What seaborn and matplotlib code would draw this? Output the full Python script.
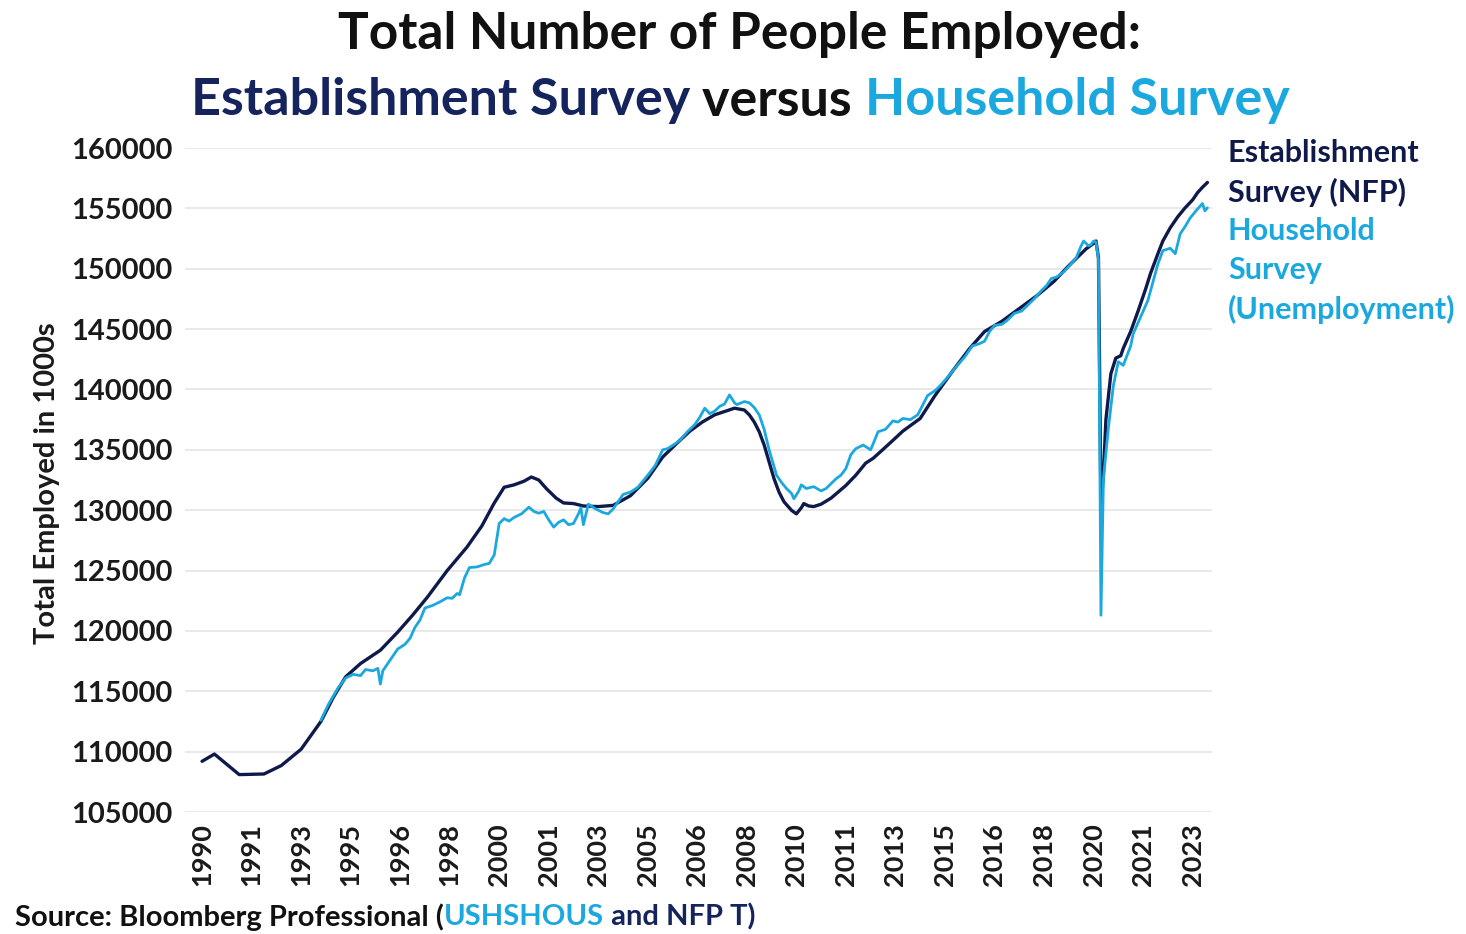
import matplotlib
matplotlib.use("Agg")
import matplotlib.pyplot as plt
import numpy as np
import pandas as pd
import seaborn as sns

# ---------------- data ----------------
est_dates = ["1990-01", "1990-06", "1991-04", "1992-02", "1992-09", "1993-05", "1994-01", "1994-06",
             "1994-11", "1995-05", "1996-01", "1996-08", "1997-02", "1997-08", "1998-04", "1998-12",
             "1999-06", "1999-11", "2000-03", "2000-07", "2000-11", "2001-02", "2001-05", "2001-08",
             "2001-12", "2002-03", "2002-07", "2002-11", "2003-05", "2003-11", "2004-06", "2005-01",
             "2005-07", "2006-01", "2006-06", "2006-11", "2007-04", "2007-12", "2008-04", "2008-06",
             "2008-08", "2008-10", "2008-12", "2009-02", "2009-04", "2009-06", "2009-08", "2009-11",
             "2010-01", "2010-03", "2010-04", "2010-06", "2010-08", "2010-11", "2011-03", "2011-09",
             "2012-01", "2012-05", "2012-08", "2012-11", "2013-03", "2013-08", "2014-03", "2014-09",
             "2015-04", "2015-11", "2016-05", "2016-12", "2017-07", "2018-02", "2018-09", "2019-03",
             "2019-10", "2020-01", "2020-02", "2020-03", "2020-04", "2020-05", "2020-06", "2020-08",
             "2020-10", "2020-12", "2021-01", "2021-04", "2021-07", "2021-10", "2021-12", "2022-03",
             "2022-05", "2022-08", "2022-11", "2023-02", "2023-05", "2023-07", "2023-09", "2023-11"]
est_values = [109200, 109800, 108100, 108150, 108850, 110200, 112500, 114500,
              116200, 117300, 118400, 119900, 121300, 122800, 125000, 126950,
              128700, 130600, 131900, 132100, 132400, 132750, 132500, 131800,
              131000, 130600, 130550, 130350, 130300, 130400, 131200, 132650,
              134400, 135600, 136550, 137300, 137900, 138450, 138300, 137900,
              137300, 136500, 135400, 134000, 132600, 131500, 130700, 130000,
              129700, 130200, 130550, 130350, 130300, 130500, 131000, 132050,
              132900, 133900, 134300, 134850, 135600, 136550, 137600, 139500,
              141500, 143400, 144800, 145650, 146700, 147750, 148950, 150250,
              151650, 152100, 152300, 150900, 130400, 133000, 137500, 141300,
              142600, 142800, 143400, 144800, 146500, 148300, 149600, 151250,
              152300, 153400, 154300, 155050, 155700, 156300, 156750, 157150]

hh_dates = ["1994-01", "1994-04", "1994-08", "1994-11", "1995-02", "1995-05", "1995-07", "1995-10",
            "1995-12", "1996-01", "1996-02", "1996-05", "1996-08", "1996-11", "1997-01", "1997-03",
            "1997-05", "1997-07", "1997-10", "1998-01", "1998-04", "1998-06", "1998-08", "1998-09",
            "1998-11", "1999-01", "1999-04", "1999-07", "1999-09", "1999-11", "2000-01", "2000-03",
            "2000-05", "2000-07", "2000-10", "2001-01", "2001-03", "2001-05", "2001-07", "2001-09",
            "2001-11", "2002-01", "2002-03", "2002-05", "2002-07", "2002-09", "2002-10", "2002-11",
            "2003-01", "2003-04", "2003-07", "2003-09", "2003-11", "2004-03", "2004-06", "2004-09",
            "2005-01", "2005-04", "2005-07", "2005-09", "2005-12", "2006-02", "2006-05", "2006-08",
            "2006-10", "2006-12", "2007-02", "2007-04", "2007-06", "2007-08", "2007-10", "2007-12",
            "2008-01", "2008-04", "2008-06", "2008-08", "2008-10", "2008-12", "2009-02", "2009-04",
            "2009-05", "2009-07", "2009-09", "2009-11", "2009-12", "2010-02", "2010-03", "2010-05",
            "2010-08", "2010-11", "2011-01", "2011-03", "2011-05", "2011-07", "2011-09", "2011-11",
            "2012-01", "2012-04", "2012-07", "2012-10", "2013-01", "2013-04", "2013-06", "2013-08",
            "2013-11", "2014-02", "2014-04", "2014-06", "2014-09", "2014-11", "2015-02", "2015-06",
            "2015-09", "2015-12", "2016-03", "2016-05", "2016-07", "2016-09", "2016-12", "2017-02",
            "2017-05", "2017-08", "2017-11", "2018-01", "2018-04", "2018-06", "2018-08", "2018-10",
            "2019-01", "2019-03", "2019-06", "2019-08", "2019-09", "2019-11", "2019-12", "2020-01",
            "2020-02", "2020-03", "2020-04", "2020-05", "2020-07", "2020-09", "2020-11", "2021-01",
            "2021-04", "2021-05", "2021-08", "2021-11", "2022-01", "2022-03", "2022-05", "2022-08",
            "2022-10", "2022-12", "2023-02", "2023-04", "2023-07", "2023-09", "2023-10", "2023-11"]
hh_values = [112600, 113900, 115300, 116100, 116400, 116300, 116800, 116700,
             116900, 115600, 116700, 117600, 118500, 118900, 119400, 120300,
             120900, 121900, 122100, 122400, 122750, 122700, 123100, 123000,
             124400, 125250, 125300, 125500, 125600, 126300, 128900, 129300,
             129100, 129400, 129700, 130250, 129900, 129750, 129900, 129200,
             128600, 129000, 129200, 128800, 128900, 129700, 130200, 128800,
             130500, 130100, 129800, 129700, 130100, 131300, 131500, 131900,
             132900, 133700, 135000, 135100, 135500, 135800, 136500, 137100,
             137700, 138450, 138000, 138200, 138600, 138800, 139550, 138900,
             138750, 139000, 138900, 138500, 137900, 136700, 135000, 133600,
             132900, 132300, 131800, 131400, 130950, 131600, 132100, 131800,
             131950, 131600, 131800, 132200, 132600, 132900, 133450, 134600,
             135100, 135400, 135000, 136500, 136700, 137400, 137300, 137600,
             137500, 137900, 138700, 139500, 139900, 140300, 141000, 142000,
             142700, 143600, 143800, 144000, 144800, 145300, 145400, 145700,
             146300, 146500, 147100, 147500, 148200, 148600, 149200, 149300,
             149750, 150200, 150900, 151900, 152300, 151900, 152000, 152300,
             152200, 150800, 121300, 132600, 136800, 140300, 142300, 142000,
             143600, 144600, 146000, 147400, 148900, 150400, 151500, 151700,
             151250, 152900, 153500, 154200, 154950, 155400, 154800, 155050]

x_tick_labels = ["1990", "1991", "1993", "1995", "1996", "1998", "2000", "2001", "2003", "2005",
                 "2006", "2008", "2010", "2011", "2013", "2015", "2016", "2018", "2020", "2021", "2023"]
y_ticks = [105000, 110000, 115000, 120000, 125000, 130000, 135000, 140000, 145000, 150000, 155000, 160000]

NAVY = "#0f1a4a"
CYAN = "#1aa8df"
TITLE_NAVY = "#16245e"


def month_index(d):
    p = pd.Period(d, freq="M")
    return (p.year - 1990) * 12 + (p.month - 1)


est = pd.DataFrame({"m": [month_index(d) for d in est_dates], "v": est_values, "s": "Establishment"})
hh = pd.DataFrame({"m": [month_index(d) for d in hh_dates], "v": hh_values, "s": "Household"})

# ---------------- figure ----------------
sns.set_style("white")
plt.rcParams["font.family"] = ["Lato", "DejaVu Sans"]
plt.rcParams["font.weight"] = "bold"

fig = plt.figure(figsize=(14.66, 9.34), dpi=100)
ax = fig.add_axes([0.126, 0.1306, 0.827 - 0.126, 0.8415 - 0.1306])

sns.lineplot(data=est, x="m", y="v", ax=ax, color=NAVY, linewidth=2.4, legend=False, zorder=3)
sns.lineplot(data=hh, x="m", y="v", ax=ax, color=CYAN, linewidth=2.0, legend=False, zorder=4)

ax.set_xlim(-7, 408)
ax.set_ylim(105000, 160000)
ax.set_yticks(y_ticks)
ax.set_yticklabels([str(v) for v in y_ticks], fontsize=21, fontweight="bold", color="#1a1a1a")
tick_pos = [i * 20 for i in range(len(x_tick_labels))]
ax.set_xticks(tick_pos)
ax.set_xticklabels(x_tick_labels, rotation=90, fontsize=19.5, fontweight="bold", color="#1a1a1a")
ax.tick_params(axis="y", length=0, pad=9)
ax.tick_params(axis="x", length=0, pad=8)
ax.grid(axis="y", color="#e3e3e3", linewidth=1.1)
ax.grid(axis="x", visible=False)
for s in ax.spines.values():
    s.set_visible(False)
ax.set_xlabel("")
ax.set_ylabel("")

fig.text(47 / 1466, 1 - 483 / 934, "Total Employed in 1000s", rotation=90, ha="center", va="center",
         fontsize=21, fontweight="bold", color="#1a1a1a")


def multicolor(fig, xc, y, parts, ha="center", **kw):
    fig.canvas.draw()
    r = fig.canvas.get_renderer()
    W = fig.get_figwidth() * fig.dpi
    texts, widths = [], []
    for s, c in parts:
        t = fig.text(0, y, s, color=c, va="center", ha="left", **kw)
        widths.append(t.get_window_extent(r).width)
        texts.append(t)
    total = sum(widths)
    x = xc * W - total / 2 if ha == "center" else xc * W
    for t, w in zip(texts, widths):
        t.set_x(x / W)
        x += w


multicolor(fig, 740 / 1466, 1 - 34 / 934, [("Total Number of People Employed:", "#111111")],
           fontsize=37, fontweight="bold")
multicolor(fig, 740 / 1466, 1 - 101 / 934,
           [("Establishment Survey ", TITLE_NAVY), ("versus ", "#111111"), ("Household Survey", CYAN)],
           fontsize=37.5, fontweight="bold")

leg_lines = [("Establishment", NAVY, 153), ("Survey (NFP)", NAVY, 192), ("Household", CYAN, 231),
             ("Survey", CYAN, 270), ("(Unemployment)", CYAN, 309)]
for s, c, yp in leg_lines:
    fig.text(1228 / 1466, 1 - yp / 934, s, color=c, fontsize=22, fontweight="bold", va="center", ha="left")

multicolor(fig, 15 / 1466, 1 - 917 / 934,
           [("Source: Bloomberg Professional (", "#111111"), ("USHSHOUS", CYAN), (" and NFP T)", TITLE_NAVY)],
           ha="left", fontsize=21, fontweight="bold")

fig.savefig("out.png", dpi=100, facecolor="white")
